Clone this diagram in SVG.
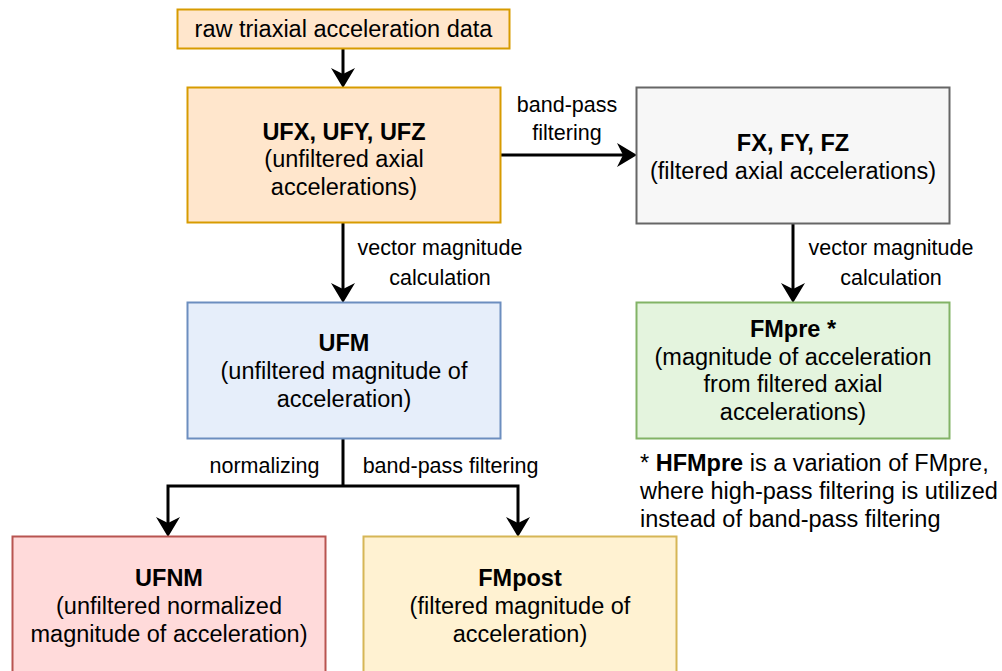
<svg xmlns="http://www.w3.org/2000/svg" width="1002" height="671" viewBox="0 0 1002 671">
<style>
text{font-family:"Liberation Sans",Arial,sans-serif;fill:#000}
.n{font-size:23.5px;text-anchor:middle}
.b{font-weight:bold}
.l{font-size:21.5px;text-anchor:middle}
.f{font-size:23.5px}
.c{stroke:#000;stroke-width:3;fill:none}
rect{stroke-width:2}
</style>
<rect width="1002" height="671" fill="#fff" stroke="none"/>
<g id="connectors">
<path class="c" d="M343 49V75"/>
<path d="M331 68L343 88L355 68L343 74Z" fill="#000"/>
<path class="c" d="M500 155H624"/>
<path d="M617 143L637 155L617 167L623 155Z" fill="#000"/>
<path class="c" d="M343 223V290"/>
<path d="M331 283L343 303L355 283L343 289Z" fill="#000"/>
<path class="c" d="M793 224V290"/>
<path d="M781 283L793 303L805 283L793 289Z" fill="#000"/>
<path class="c" d="M343 438V486M168 486H518M168 484.5V524M518 484.5V524"/>
<path d="M156 517L168 537L180 517L168 523Z" fill="#000"/>
<path d="M506 517L518 537L530 517L518 523Z" fill="#000"/>
<text class="l" x="567" y="111.5">band-pass</text>
<text class="l" x="567" y="139.5">filtering</text>
<text class="l" x="440" y="254.5">vector magnitude</text>
<text class="l" x="440" y="284.5">calculation</text>
<text class="l" x="891" y="254.5">vector magnitude</text>
<text class="l" x="891" y="284.5">calculation</text>
<text class="l" x="264.5" y="472.5">normalizing</text>
<text class="l" x="450.5" y="472.5">band-pass filtering</text>
</g>
<g id="raw">
<rect x="177.5" y="9.5" width="332" height="39" fill="#ffe6cc" stroke="#d79b00"/>
<text class="n" x="343.5" y="36.5">raw triaxial acceleration data</text>
</g>
<g id="uf">
<rect x="187.5" y="87.5" width="313" height="135" fill="#ffe6cc" stroke="#d79b00"/>
<text class="n b" x="344" y="139.5">UFX, UFY, UFZ</text>
<text class="n" x="344" y="166.5">(unfiltered axial</text>
<text class="n" x="344" y="194.5">accelerations)</text>
</g>
<g id="fx">
<rect x="636.5" y="87.5" width="313" height="136" fill="#f7f7f7" stroke="#666666"/>
<text class="n b" x="793" y="150.5">FX, FY, FZ</text>
<text class="n" x="793" y="178.5">(filtered axial accelerations)</text>
</g>
<g id="ufm">
<rect x="187.5" y="302.5" width="313" height="136" fill="#e6eefa" stroke="#6c8ebf"/>
<text class="n b" x="344" y="350.5">UFM</text>
<text class="n" x="344" y="378.5">(unfiltered magnitude of</text>
<text class="n" x="344" y="406.5">acceleration)</text>
</g>
<g id="fmpre">
<rect x="636.5" y="302.5" width="313" height="136" fill="#e4f4de" stroke="#82b366"/>
<text class="n" x="793" y="336.5"><tspan class="b">FMpre</tspan> <tspan class="b">*</tspan></text>
<text class="n" x="793" y="364.5">(magnitude of acceleration</text>
<text class="n" x="793" y="392">from filtered axial</text>
<text class="n" x="793" y="419.5">accelerations)</text>
</g>
<g id="footnote">
<text class="f" x="640" y="470.5">* <tspan class="b">HFMpre</tspan> is a variation of FMpre,</text>
<text class="f" x="640" y="498.5">where high-pass filtering is utilized</text>
<text class="f" x="640" y="526.5">instead of band-pass filtering</text>
</g>
<g id="ufnm">
<rect x="12.5" y="536.5" width="313" height="140" fill="#ffdada" stroke="#b85450"/>
<text class="n b" x="169" y="585.5">UFNM</text>
<text class="n" x="169" y="613.5">(unfiltered normalized</text>
<text class="n" x="169" y="641.5">magnitude of acceleration)</text>
</g>
<g id="fmpost">
<rect x="363.5" y="536.5" width="313" height="140" fill="#fff2d2" stroke="#d6b656"/>
<text class="n b" x="520" y="585.5">FMpost</text>
<text class="n" x="520" y="613.5">(filtered magnitude of</text>
<text class="n" x="520" y="641.5">acceleration)</text>
</g>
</svg>
